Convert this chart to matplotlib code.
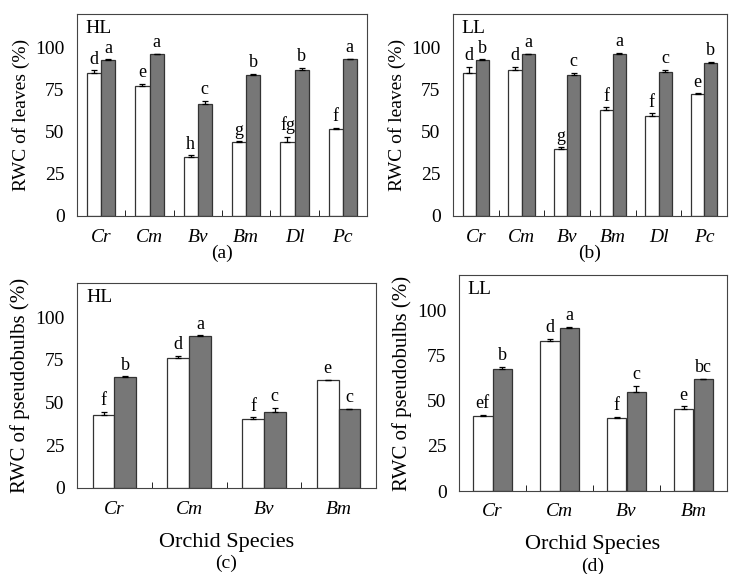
import matplotlib
matplotlib.use("Agg")
import matplotlib.pyplot as plt
import numpy as np

plt.rcParams['font.family'] = ['Liberation Serif', 'DejaVu Serif']

sp6 = ['Cr', 'Cm', 'Bv', 'Bm', 'Dl', 'Pc']
sp4 = ['Cr', 'Cm', 'Bv', 'Bm']

a_w = [85, 77, 35, 44, 44, 51.5]; a_we = [1.5, 1.5, 1, 0.5, 3, 1]
a_g = [92.5, 96, 66.5, 84, 87, 93]; a_ge = [0.7, 0.5, 2, 0.5, 1, 0.5]
a_lw = ['d', 'e', 'h', 'g', 'fg', 'f']; a_lg = ['a', 'a', 'c', 'b', 'b', 'a']

b_w = [85, 86.5, 40, 63, 59.5, 72.5]; b_we = [3.5, 2, 0.7, 1.5, 1.5, 0.5]
b_g = [92.5, 96, 84, 96.5, 85.5, 91]; b_ge = [0.5, 0.5, 1, 0.5, 1.5, 0.5]
b_lw = ['d', 'd', 'g', 'f', 'f', 'e']; b_lg = ['b', 'a', 'c', 'a', 'c', 'b']

c_w = [43, 76, 40.5, 63]; c_we = [1.5, 1.5, 1, 0.5]
c_g = [65, 89, 44.5, 46]; c_ge = [0.5, 0.5, 2.5, 0.3]
c_lw = ['f', 'd', 'f', 'e']; c_lg = ['b', 'a', 'c', 'c']

d_w = [41.5, 83.5, 40.5, 45.5]; d_we = [1, 1, 0.7, 1.5]
d_g = [68, 90.5, 55, 62]; d_ge = [0.8, 0.7, 3.5, 0.5]
d_lw = ['ef', 'd', 'f', 'e']; d_lg = ['b', 'a', 'c', 'bc']

fig = plt.figure(figsize=(7.32, 5.74), dpi=100)
W, H = 732, 574
PT = 72 / 100  # points per pixel

def ax_at(l, t, r, b):
    return fig.add_axes([l / W, 1 - b / H, (r - l) / W, (b - t) / H])

def panel(ax, sp, w, we, g, ge, lw, lg, cond, ylab, cap, xlab=None):
    n = len(sp)
    x = np.arange(n)
    bw = 0.29
    ek = dict(lw=0.9, capsize=2.5, capthick=0.9)
    ax.bar(x - bw / 2, w, bw, yerr=[np.zeros(n), we], color='white', edgecolor='#333333', lw=0.9,
           error_kw=ek, zorder=2)
    ax.bar(x + bw / 2, g, bw, yerr=[np.zeros(n), ge], color='#777777', edgecolor='#333333', lw=0.9,
           error_kw=ek, zorder=2)
    for i in range(n):
        ax.text(x[i] - bw / 2, w[i] + we[i] + 1.5, lw[i], ha='center', va='bottom', fontsize=13)
        ax.text(x[i] + bw / 2, g[i] + ge[i] + 1.5, lg[i], ha='center', va='bottom', fontsize=13)
    ax.set_xlim(-0.5, n - 0.5)
    ax.set_ylim(0, 120)
    ax.set_yticks([0, 25, 50, 75, 100])
    ax.set_xticks(x)
    ax.set_xticklabels(sp, fontstyle='italic', fontsize=14)
    ax.set_xticks(np.arange(n - 1) + 0.5, minor=True)
    ax.tick_params(axis='x', which='major', length=0, pad=9)
    ax.tick_params(axis='x', which='minor', direction='in', length=4)
    ax.tick_params(axis='y', direction='in', length=0, labelsize=14, pad=9)
    for s in ax.spines.values():
        s.set_color('#444444')
    ax.set_ylabel(ylab, fontsize=15 if 'pseudo' in ylab else 14, labelpad=4)
    ax.text(0.03, 0.97, cond, transform=ax.transAxes, ha='left', va='top', fontsize=14)
    if xlab:
        ax.annotate(xlab, (0.5, 0), xycoords='axes fraction', xytext=(0, -54 * PT),
                    textcoords='offset points', ha='center', va='center', fontsize=16)
        off = -75
    else:
        off = -37
    ax.annotate(cap, (0.5, 0), xycoords='axes fraction', xytext=(0, off * PT),
                textcoords='offset points', ha='center', va='center', fontsize=14)

axa = ax_at(77, 14, 367, 216)
panel(axa, sp6, a_w, a_we, a_g, a_ge, a_lw, a_lg, 'HL', 'RWC of leaves (%)', '(a)')
axb = ax_at(453, 14, 727, 216)
panel(axb, sp6, b_w, b_we, b_g, b_ge, b_lw, b_lg, 'LL', 'RWC of leaves (%)', '(b)')
axc = ax_at(77, 283, 376, 488)
panel(axc, sp4, c_w, c_we, c_g, c_ge, c_lw, c_lg, 'HL', 'RWC of pseudobulbs (%)', '(c)', 'Orchid Species')
axd = ax_at(459, 275, 727, 491)
panel(axd, sp4, d_w, d_we, d_g, d_ge, d_lw, d_lg, 'LL', 'RWC of pseudobulbs (%)', '(d)', 'Orchid Species')

fig.savefig('out.png', dpi=100)
